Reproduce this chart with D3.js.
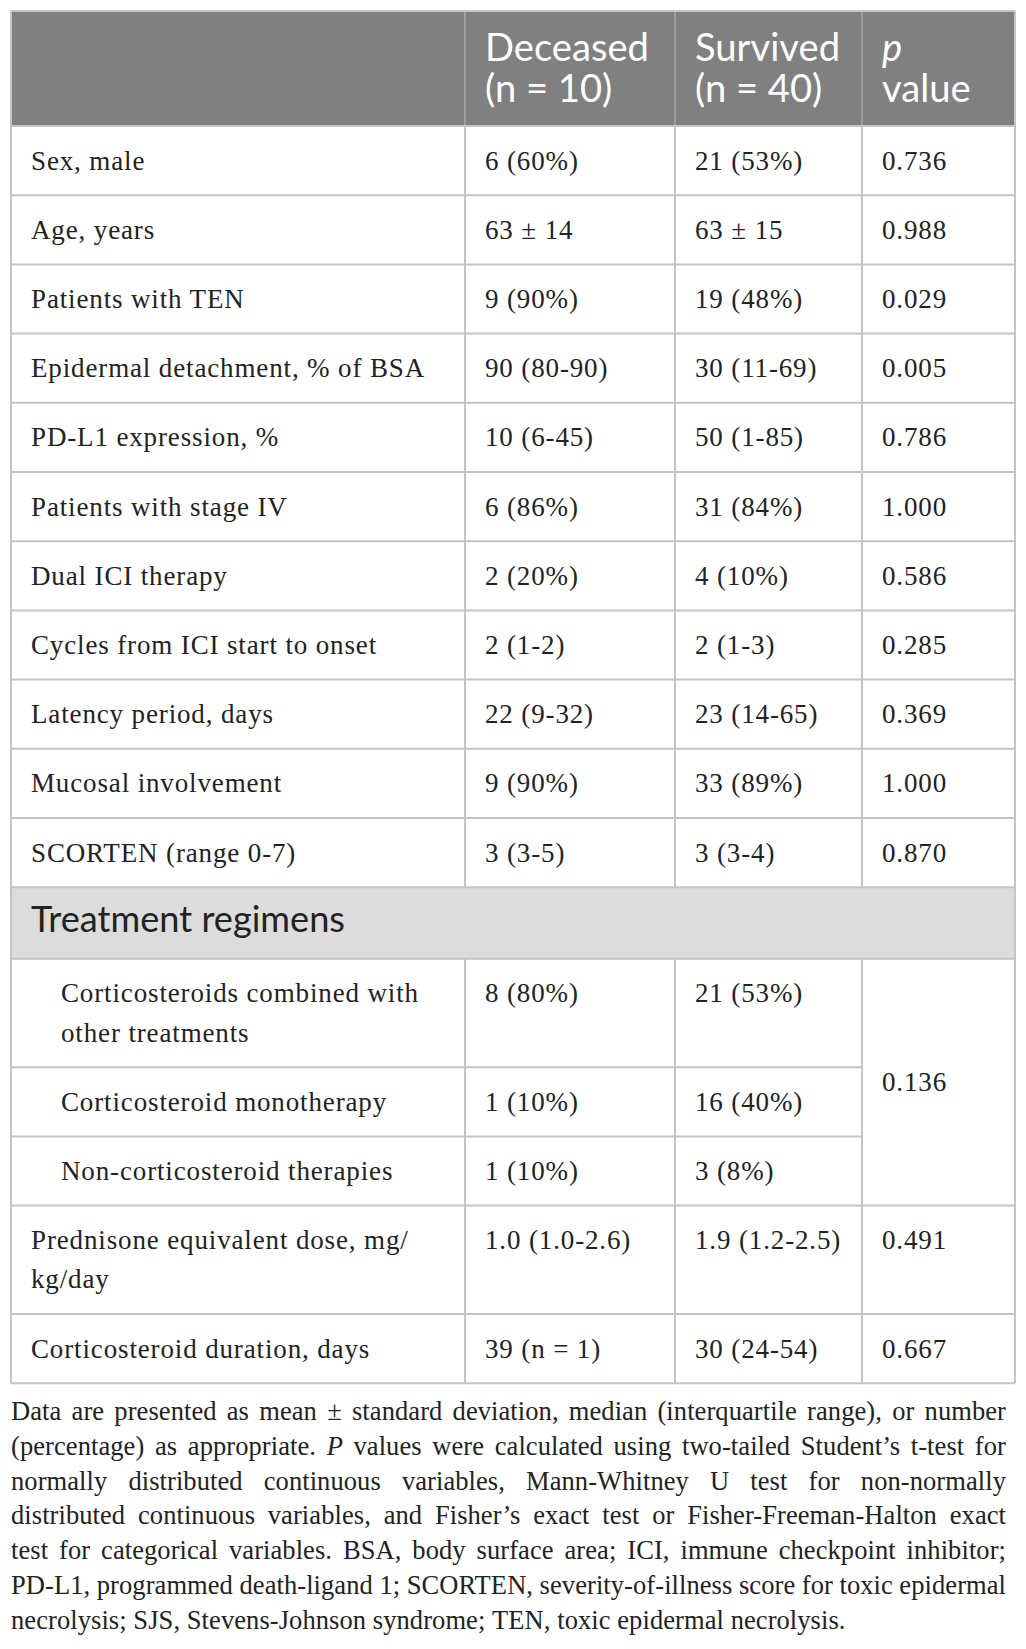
<!DOCTYPE html>
<html><head><meta charset="utf-8">
<script src="https://cdn.jsdelivr.net/npm/d3@7"></script>
<style>html,body{margin:0;padding:0;background:#fff;} svg{display:block}</style>
</head><body>
<svg id="chart" width="1026" height="1649"></svg>
<script>
// ---------- DATA ----------
const headerLines = [["Deceased", "(n = 10)"], ["Survived", "(n = 40)"], ["p", "value"]];
const rowLabels = [
  ["Sex, male"], ["Age, years"], ["Patients with TEN"], ["Epidermal detachment, % of BSA"],
  ["PD-L1 expression, %"], ["Patients with stage IV"], ["Dual ICI therapy"],
  ["Cycles from ICI start to onset"], ["Latency period, days"], ["Mucosal involvement"],
  ["SCORTEN (range 0-7)"],
  ["Corticosteroids combined with", "other treatments"], ["Corticosteroid monotherapy"],
  ["Non-corticosteroid therapies"], ["Prednisone equivalent dose, mg/", "kg/day"],
  ["Corticosteroid duration, days"]
];
const deceased = ["6 (60%)", "63 ± 14", "9 (90%)", "90 (80-90)", "10 (6-45)", "6 (86%)", "2 (20%)",
  "2 (1-2)", "22 (9-32)", "9 (90%)", "3 (3-5)", "8 (80%)", "1 (10%)", "1 (10%)", "1.0 (1.0-2.6)", "39 (n = 1)"];
const survived = ["21 (53%)", "63 ± 15", "19 (48%)", "30 (11-69)", "50 (1-85)", "31 (84%)", "4 (10%)",
  "2 (1-3)", "23 (14-65)", "33 (89%)", "3 (3-4)", "21 (53%)", "16 (40%)", "3 (8%)", "1.9 (1.2-2.5)", "30 (24-54)"];
const pValues = ["0.736", "0.988", "0.029", "0.005", "0.786", "1.000", "0.586", "0.285", "0.369", "1.000",
  "0.870", "0.136", null, null, "0.491", "0.667"];
const indentedRows = [11, 12, 13];
const mergedP = { start: 11, span: 3 };
const sectionTitle = "Treatment regimens";
const sectionBefore = 11; // section row sits before this data row
const footnoteLines = [
  "Data are presented as mean ± standard deviation, median (interquartile range), or number",
  "(percentage) as appropriate. _P_ values were calculated using two-tailed Student’s t-test for",
  "normally distributed continuous variables, Mann-Whitney U test for non-normally",
  "distributed continuous variables, and Fisher’s exact test or Fisher-Freeman-Halton exact",
  "test for categorical variables. BSA, body surface area; ICI, immune checkpoint inhibitor;",
  "PD-L1, programmed death-ligand 1; SCORTEN, severity-of-illness score for toxic epidermal",
  "necrolysis; SJS, Stevens-Johnson syndrome; TEN, toxic epidermal necrolysis."
];

// ---------- LAYOUT / STYLE ----------
const colKeys = ["label", "deceased", "survived", "p", "end"];
const x = d3.scaleOrdinal().domain(colKeys).range([11, 465, 675, 862, 1015]);
const tableTop = 11, headerH = 115, sectionH = 71.6;
const rowH = d3.scaleLinear().domain([1, 2]).range([69.2, 108.4]);
const lineStep = 39.2, firstBase = 43.5, pad = 20, indentPad = 50;
const gridColor = "#c4c4c4", headerGrid = "#9e9e9e";
const textColor = "#222";
const serif = "'Liberation Serif','Times New Roman',serif";
const sans = "Lato,'Open Sans','Noto Sans',sans-serif";

const svg = d3.select("#chart");

function measure(text, family, size, style, ls) {
  const t = svg.append("text").attr("font-family", family).attr("font-size", size)
    .attr("font-style", style || "normal").attr("letter-spacing", ls || 0).text(text);
  const w = t.node().getComputedTextLength();
  t.remove();
  return w;
}

function draw() {
  // font fitting to reference widths
  const headerSize = 100 * 164 / measure("Deceased", sans, 100);
  const sectionSize = 100 * 314 / measure(sectionTitle, sans, 100);
  const bodySize = 27;
  const bodyLS = Math.max(-1, Math.min(2, (394 - measure("Epidermal detachment, % of BSA", serif, bodySize)) / 30));
  const footSize = 26.5;
  const lastLine = footnoteLines[footnoteLines.length - 1];
  const footLS = Math.max(-1.5, Math.min(2, (834 - measure(lastLine, serif, footSize)) / lastLine.length));

  // vertical layout
  const blocks = [];
  rowLabels.forEach((l, i) => {
    if (i === sectionBefore) blocks.push({ type: "section", h: sectionH });
    blocks.push({ type: "row", i, h: rowH(l.length) });
  });
  const cum = d3.cumsum(blocks, b => b.h);
  const bodyTop = tableTop + headerH;
  blocks.forEach((b, k) => { b.y0 = bodyTop + (k ? cum[k - 1] : 0); b.y1 = bodyTop + cum[k]; });
  const tableBottom = blocks[blocks.length - 1].y1;
  const rowBlock = i => blocks.find(b => b.type === "row" && b.i === i);
  const sec = blocks.find(b => b.type === "section");

  // backgrounds
  svg.append("rect").attr("x", x("label")).attr("y", tableTop).attr("width", x("end") - x("label"))
    .attr("height", headerH).attr("fill", "#808080");
  svg.append("rect").attr("x", x("label")).attr("y", sec.y0).attr("width", x("end") - x("label"))
    .attr("height", sec.h).attr("fill", "#dcdcdc");

  // grid
  const g = svg.append("g").attr("fill", "none").attr("stroke-width", 2);
  ["deceased", "survived", "p"].forEach(k => {
    g.append("line").attr("x1", x(k)).attr("x2", x(k)).attr("y1", tableTop).attr("y2", bodyTop).attr("stroke", headerGrid);
    g.append("line").attr("x1", x(k)).attr("x2", x(k)).attr("y1", bodyTop).attr("y2", sec.y0).attr("stroke", gridColor);
    g.append("line").attr("x1", x(k)).attr("x2", x(k)).attr("y1", sec.y1).attr("y2", tableBottom).attr("stroke", gridColor);
  });
  ["label", "end"].forEach(k => {
    g.append("line").attr("x1", x(k)).attr("x2", x(k)).attr("y1", tableTop).attr("y2", tableBottom).attr("stroke", gridColor);
  });
  const hLines = [{ y: tableTop, x2: x("end") }, { y: bodyTop, x2: x("end") }];
  blocks.forEach(b => {
    let x2 = x("end");
    if (b.type === "row" && b.i >= mergedP.start && b.i < mergedP.start + mergedP.span - 1) x2 = x("p");
    hLines.push({ y: b.y1, x2 });
  });
  hLines.forEach(h => g.append("line").attr("x1", x("label")).attr("x2", h.x2)
    .attr("y1", h.y).attr("y2", h.y).attr("stroke", gridColor));

  // header text (one text element per cell, lines as tspans)
  const hcols = ["deceased", "survived", "p"];
  headerLines.forEach((lines, c) => {
    const t = svg.append("text").attr("y", tableTop + 49.7)
      .attr("font-family", sans).attr("font-size", headerSize).attr("fill", "#fff");
    lines.forEach((ln, j) => {
      t.append("tspan").attr("x", x(hcols[c]) + pad).attr("dy", j ? 41 : 0)
        .attr("font-style", (c === 2 && j === 0) ? "italic" : "normal").text(ln);
    });
  });

  // section title
  svg.append("text").attr("x", x("label") + pad).attr("y", sec.y0 + 44.5)
    .attr("font-family", sans).attr("font-size", sectionSize).attr("fill", textColor).text(sectionTitle);

  // body text
  const bodyText = (xx, yy, lines) => {
    const t = svg.append("text").attr("y", yy)
      .attr("font-family", serif).attr("font-size", bodySize).attr("letter-spacing", bodyLS)
      .attr("fill", textColor);
    [].concat(lines).forEach((ln, j) => t.append("tspan").attr("x", xx).attr("dy", j ? lineStep : 0).text(ln));
  };
  rowLabels.forEach((lines, i) => {
    const b = rowBlock(i);
    const lp = indentedRows.includes(i) ? indentPad : pad;
    bodyText(x("label") + lp, b.y0 + firstBase, lines);
    bodyText(x("deceased") + pad, b.y0 + firstBase, deceased[i]);
    bodyText(x("survived") + pad, b.y0 + firstBase, survived[i]);
    if (pValues[i] !== null) {
      if (i === mergedP.start) {
        const last = rowBlock(mergedP.start + mergedP.span - 1);
        const cy = (b.y0 + last.y1) / 2;
        bodyText(x("p") + pad, cy + 8.9, pValues[i]);
      } else {
        bodyText(x("p") + pad, b.y0 + firstBase, pValues[i]);
      }
    }
  });

  // footnote (justified)
  const fx0 = 11, fx1 = 1006, fBase = 1420, fStep = 34.8;
  const spaceW = measure("a a", serif, footSize, "normal", footLS) - 2 * measure("a", serif, footSize, "normal", footLS);
  footnoteLines.forEach((line, li) => {
    const words = line.split(" ").map(w => {
      const it = /^_.*_/.test(w);
      return { txt: it ? w.replace(/_/g, "") : w, it };
    });
    words.forEach(w => w.w = measure(w.txt, serif, footSize, w.it ? "italic" : "normal", footLS));
    const isLast = li === footnoteLines.length - 1;
    const total = d3.sum(words, w => w.w);
    const gap = isLast ? spaceW : (fx1 - fx0 - total) / (words.length - 1);
    const t = svg.append("text").attr("y", fBase + li * fStep)
      .attr("font-family", serif).attr("font-size", footSize).attr("letter-spacing", footLS)
      .attr("fill", textColor);
    let cx = fx0;
    words.forEach(w => {
      t.append("tspan").attr("x", cx).attr("font-style", w.it ? "italic" : "normal").text(w.txt);
      cx += w.w + gap;
    });
  });
}

if (document.fonts && document.fonts.ready) document.fonts.ready.then(draw); else draw();
</script>
</body></html>
